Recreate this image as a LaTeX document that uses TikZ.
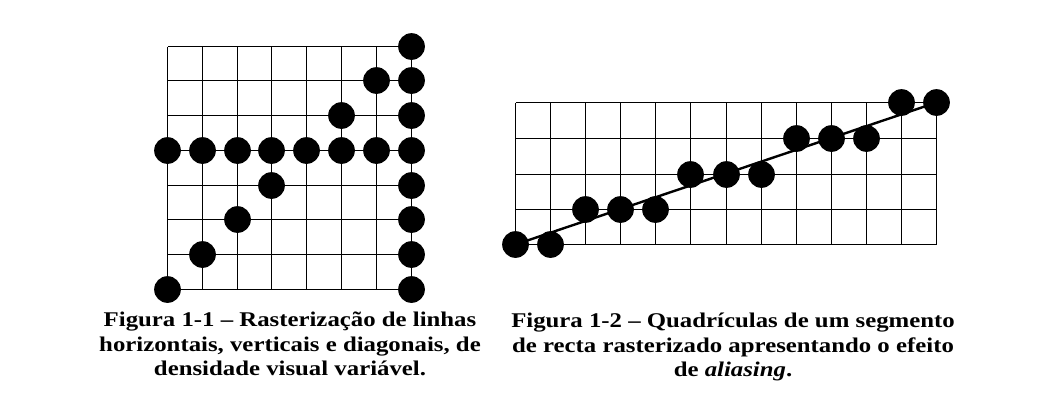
\documentclass[tikz,border=0pt]{standalone}
\usepackage{fontspec}
\setmainfont{Liberation Serif}
\newfontfamily\capfont[FakeStretch=1.185]{Liberation Serif}
\begin{document}
\begin{tikzpicture}[x=1bp,y=-1bp,
  gridline/.style={line width=1bp, black},
  dot/.style={circle, fill=black, draw=none, minimum size=26.7bp, inner sep=0pt},
  segline/.style={line width=2.4bp, black},
  caption/.style={align=center, font=\capfont\fontsize{21}{24.5}\selectfont\bfseries, inner sep=0pt, anchor=north}]
\useasboundingbox (0,0) rectangle (1039,411);
\fill[white] (0,0) rectangle (1039,411);
% ---------- Figure 1-1 grid ----------
\def\AX{{167.5,202.5,237.5,271.5,306.5,341.5,376.5,411.5}}
\def\AY{{289.5,254.5,219.5,185.5,150.5,115.5,80.5,46.5}}
\foreach \i in {0,...,7}{
  \pgfmathsetmacro{\xx}{\AX[\i]}
  \pgfmathsetmacro{\yy}{\AY[\i]}
  \draw[gridline] (\xx,289.5) -- (\xx,46.5);
  \draw[gridline] (167.5,\yy) -- (411.5,\yy);
}
\foreach \i/\j/\n in {0/0/a1,7/0/a2,1/1/a3,7/1/a4,2/2/a5,7/2/a6,3/3/a7,7/3/a8,
  0/4/a9,1/4/a10,2/4/a11,3/4/a12,4/4/a13,5/4/a14,6/4/a15,7/4/a16,
  5/5/a17,7/5/a18,6/6/a19,7/6/a20,7/7/a21}{
  \pgfmathsetmacro{\xx}{\AX[\i]}
  \pgfmathsetmacro{\yy}{\AY[\j]}
  \node[dot] (\n) at (\xx,\yy) {};
}
% ---------- Figure 1-2 grid ----------
\def\BX{{515.5,550.5,585.5,620.5,655.5,690.5,726.5,761.5,796.5,831.5,866.5,901.5,936.5}}
\def\BY{{244.5,209.5,174.5,138.5,102.5}}
\foreach \i in {0,...,12}{
  \pgfmathsetmacro{\xx}{\BX[\i]}
  \draw[gridline] (\xx,244.5) -- (\xx,102.5);
}
\foreach \j in {0,...,4}{
  \pgfmathsetmacro{\yy}{\BY[\j]}
  \draw[gridline] (515.5,\yy) -- (936.5,\yy);
}
\foreach \i/\j/\n in {0/0/b0,1/0/b1,2/1/b2,3/1/b3,4/1/b4,5/2/b5,6/2/b6,7/2/b7,
  8/3/b8,9/3/b9,10/3/b10,11/4/b11,12/4/b12}{
  \pgfmathsetmacro{\xx}{\BX[\i]}
  \pgfmathsetmacro{\yy}{\BY[\j]}
  \node[dot] (\n) at (\xx,\yy) {};
}
\draw[segline] (b0.center) -- (b12.center);
% ---------- Captions ----------
\node[caption] (cap1) at (290,312) {Figura 1-1 – Rasterização de linhas\\horizontais, verticais e diagonais, de\\densidade visual variável.};
\node[caption] (cap2) at (733,313) {Figura 1-2 – Quadrículas de um segmento\\de recta rasterizado apresentando o efeito\\de \textit{aliasing}.};
\end{tikzpicture}
\end{document}
